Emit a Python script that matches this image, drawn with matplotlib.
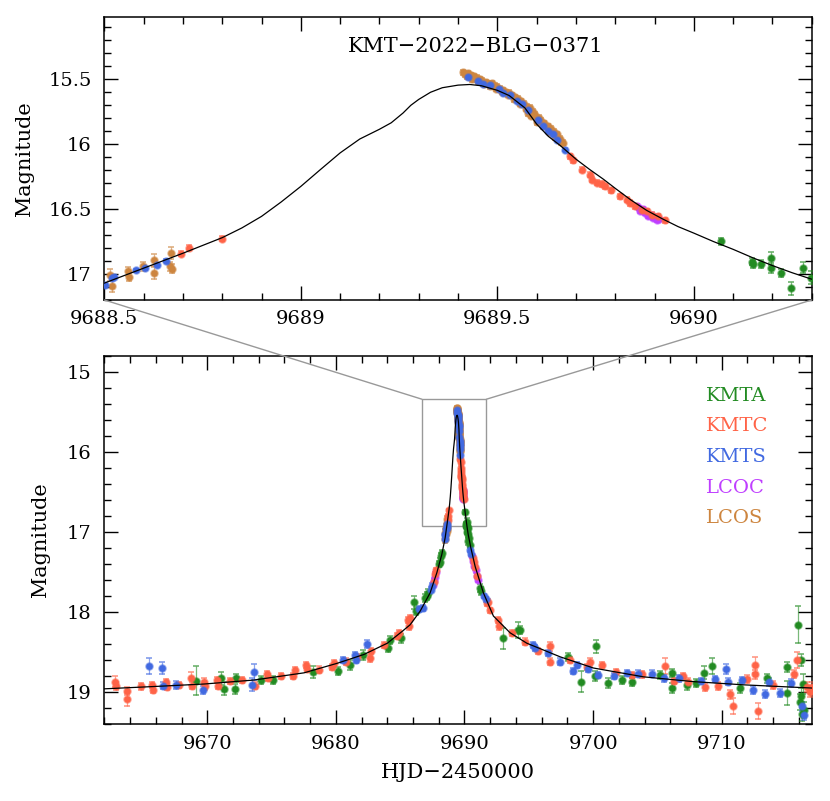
import matplotlib
matplotlib.use("Agg")
import matplotlib.pyplot as plt
from matplotlib.patches import Rectangle, ConnectionPatch
from matplotlib.ticker import MultipleLocator, FuncFormatter
import matplotlib.colors as mcolors

plt.rcParams['font.family'] = ['DejaVu Serif']
plt.rcParams['font.size'] = 14

# ---------------- data (HJD-2450000, magnitude, error) ----------------
kmta_t = [9669.16, 9671.10, 9671.31, 9672.14, 9672.22, 9674.16, 9675.12, 9678.23, 9680.20,
          9681.11, 9682.14, 9684.06, 9684.22, 9685.10, 9686.08, 9686.24, 9686.95, 9687.07,
          9687.20, 9688.05, 9688.10, 9688.18, 9688.24,
          9690.068, 9690.147, 9690.150, 9690.171, 9690.197, 9690.197, 9690.223, 9690.248,
          9690.279, 9690.298, 9690.34, 9690.42,
          9691.21, 9691.30, 9693.03, 9694.19, 9694.30, 9698.08, 9699.04, 9700.16, 9700.24,
          9701.19, 9702.23, 9703.00, 9705.20, 9706.10, 9706.12, 9707.28, 9708.00, 9708.60,
          9709.28, 9711.40, 9713.50, 9715.07, 9715.11, 9715.97, 9716.10, 9716.20, 9716.30,
          9716.40, 9716.15, 9716.25]
kmta_m = [18.86, 18.83, 18.96, 18.96, 18.83, 18.85, 18.85, 18.75, 18.74,
          18.66, 18.54, 18.45, 18.35, 18.33, 17.88, 17.99, 17.82, 17.80,
          17.76, 17.40, 17.37, 17.30, 17.26,
          16.749, 16.904, 16.920, 16.922, 16.878, 16.955, 16.994, 17.110,
          16.950, 17.028, 17.08, 17.16,
          17.70, 17.74, 18.33, 18.22, 18.22, 18.56, 18.87, 18.80, 18.43,
          18.89, 18.85, 18.87, 18.79, 18.76, 18.95, 18.91, 18.89, 18.76,
          18.67, 18.95, 18.83, 18.69, 19.01, 18.16, 19.12, 18.60, 18.90,
          19.22, 19.05, 19.28]
kmta_e = [0.18, 0.08, 0.08, 0.06, 0.05, 0.05, 0.05, 0.08, 0.05,
          0.06, 0.06, 0.05, 0.05, 0.06, 0.08, 0.05, 0.05, 0.05,
          0.05, 0.04, 0.04, 0.04, 0.04,
          0.03, 0.03, 0.03, 0.03, 0.05, 0.04, 0.03, 0.05,
          0.04, 0.05, 0.04, 0.04,
          0.05, 0.05, 0.13, 0.10, 0.05, 0.05, 0.13, 0.06, 0.08,
          0.06, 0.05, 0.05, 0.05, 0.05, 0.06, 0.06, 0.05, 0.08,
          0.10, 0.06, 0.06, 0.06, 0.15, 0.23, 0.10, 0.08, 0.12,
          0.10, 0.10, 0.08]

kmtc_t = [9662.81, 9662.89, 9663.74, 9663.79, 9664.83, 9665.73, 9665.81, 9666.77, 9666.90,
          9667.81, 9668.77, 9668.84, 9669.75, 9669.83, 9670.79, 9670.87, 9671.77, 9672.73,
          9673.70, 9674.68, 9674.76, 9675.72, 9676.70, 9676.80, 9677.66, 9677.79, 9678.70,
          9679.73, 9679.87, 9680.77, 9681.67, 9682.66, 9682.71, 9683.75, 9684.74, 9684.90,
          9685.64, 9685.77, 9685.70, 9687.62, 9687.72, 9687.80,
          9688.694, 9688.716, 9688.800, 9689.685, 9689.692, 9689.715, 9689.736, 9689.740,
          9689.753, 9689.766, 9689.774, 9689.789, 9689.812, 9689.829, 9689.838, 9689.850,
          9689.867, 9689.880, 9689.893, 9689.910, 9689.927,
          9690.65, 9690.72, 9690.80, 9690.96, 9691.74, 9691.82, 9692.00, 9692.64, 9692.70,
          9693.68, 9694.71, 9695.75, 9696.66, 9696.66, 9698.20, 9699.50, 9699.77, 9700.68,
          9701.80, 9703.00, 9703.79, 9705.60, 9706.30, 9707.00, 9707.40, 9708.70, 9709.70,
          9710.65, 9710.86, 9712.00, 9712.60, 9712.62, 9712.86, 9714.00, 9715.60, 9715.89,
          9716.60, 9716.85, 9717.00]
kmtc_m = [18.87, 18.93, 19.09, 18.99, 18.93, 18.91, 18.97, 18.88, 18.94,
          18.91, 18.83, 18.92, 18.87, 18.93, 18.85, 18.92, 18.86, 18.85,
          18.92, 18.78, 18.82, 18.80, 18.80, 18.73, 18.66, 18.71, 18.72,
          18.69, 18.64, 18.62, 18.56, 18.58, 18.49, 18.41, 18.30, 18.26,
          18.10, 18.08, 18.18, 17.62, 17.53, 17.48,
          16.845, 16.796, 16.729, 16.093, 16.124, 16.196, 16.234, 16.273,
          16.298, 16.306, 16.325, 16.355, 16.400, 16.427, 16.453, 16.479,
          16.505, 16.518, 16.543, 16.556, 16.587,
          17.33, 17.37, 17.44, 17.55, 17.89, 17.87, 17.98, 18.10, 18.18,
          18.26, 18.37, 18.49, 18.62, 18.43, 18.60, 18.69, 18.62, 18.66,
          18.75, 18.79, 18.78, 18.67, 18.86, 18.80, 18.87, 18.94, 18.92,
          19.03, 19.17, 18.84, 18.66, 18.78, 19.24, 18.91, 18.78, 18.60,
          18.94, 19.00, 18.94]
kmtc_e = [0.07, 0.05, 0.08, 0.05, 0.04, 0.04, 0.04, 0.04, 0.04,
          0.04, 0.08, 0.04, 0.04, 0.04, 0.04, 0.04, 0.04, 0.04,
          0.04, 0.04, 0.04, 0.04, 0.04, 0.04, 0.04, 0.04, 0.04,
          0.04, 0.04, 0.04, 0.04, 0.04, 0.04, 0.04, 0.04, 0.04,
          0.04, 0.04, 0.04, 0.03, 0.03, 0.03,
          0.02, 0.02, 0.02, 0.02, 0.02, 0.02, 0.02, 0.02,
          0.02, 0.02, 0.02, 0.02, 0.02, 0.02, 0.02, 0.02,
          0.02, 0.02, 0.02, 0.02, 0.02,
          0.03, 0.03, 0.03, 0.03, 0.03, 0.03, 0.03, 0.04, 0.04,
          0.04, 0.04, 0.04, 0.04, 0.06, 0.04, 0.04, 0.05, 0.04,
          0.04, 0.04, 0.04, 0.10, 0.04, 0.04, 0.04, 0.05, 0.05,
          0.06, 0.10, 0.05, 0.10, 0.06, 0.10, 0.05, 0.05, 0.10,
          0.06, 0.06, 0.06]

kmts_t = [9665.50, 9666.51, 9666.54, 9667.55, 9669.67, 9673.51, 9673.62, 9680.59, 9681.47,
          9681.60, 9682.45, 9686.50, 9686.80, 9687.40, 9687.50,
          9688.502, 9688.519, 9688.525, 9688.581, 9688.604, 9688.635, 9688.657,
          9689.426, 9689.452, 9689.464, 9689.481, 9689.503, 9689.515, 9689.532, 9689.549,
          9689.562, 9689.579, 9689.604, 9689.617, 9689.630, 9689.642, 9689.651, 9689.672,
          9690.44, 9690.52, 9691.55, 9691.65, 9695.36, 9695.50, 9696.53, 9697.44, 9698.47,
          9698.73, 9699.60, 9700.40, 9701.60, 9702.60, 9703.50, 9704.57, 9705.50, 9706.70,
          9708.40, 9709.50, 9710.34, 9710.50, 9711.60, 9712.47, 9713.38, 9713.70, 9714.54,
          9715.40, 9716.23, 9716.40]
kmts_m = [18.67, 18.70, 18.92, 18.91, 18.98, 18.91, 18.75, 18.60, 18.54,
          18.60, 18.40, 17.96, 17.95, 17.72, 17.67,
          17.084, 17.032, 17.020, 16.968, 16.955, 16.930, 16.896,
          15.479, 15.513, 15.539, 15.546, 15.577, 15.603, 15.624, 15.668,
          15.693, 15.737, 15.814, 15.861, 15.900, 15.925, 15.964, 16.041,
          17.22, 17.27, 17.80, 17.84, 18.41, 18.45, 18.51, 18.62, 18.74,
          18.66, 18.71, 18.79, 18.80, 18.76, 18.77, 18.77, 18.83, 18.83,
          18.86, 18.84, 18.71, 18.87, 18.85, 18.97, 19.03, 18.87, 19.01,
          18.89, 19.18, 19.29]
kmts_e = [0.10, 0.08, 0.04, 0.05, 0.05, 0.08, 0.10, 0.04, 0.04,
          0.04, 0.05, 0.04, 0.04, 0.03, 0.03,
          0.01, 0.01, 0.01, 0.01, 0.01, 0.01, 0.01,
          0.01, 0.01, 0.01, 0.01, 0.01, 0.01, 0.01, 0.01,
          0.01, 0.01, 0.01, 0.01, 0.01, 0.01, 0.01, 0.01,
          0.03, 0.03, 0.03, 0.03, 0.04, 0.04, 0.04, 0.04, 0.04,
          0.04, 0.04, 0.04, 0.04, 0.04, 0.04, 0.04, 0.04, 0.04,
          0.04, 0.04, 0.06, 0.04, 0.04, 0.05, 0.05, 0.05, 0.05,
          0.05, 0.06, 0.06]

lcoc_t = [9687.55, 9687.62, 9687.68, 9687.75,
          9689.855, 9689.860, 9689.863, 9689.870, 9689.876, 9689.884, 9689.890, 9689.897,
          9689.903, 9689.906, 9689.912,
          9690.62, 9690.70, 9690.78, 9690.86, 9690.95, 9691.02]
lcoc_m = [17.66, 17.61, 17.56, 17.50,
          16.479, 16.490, 16.518, 16.500, 16.530, 16.556, 16.545, 16.569,
          16.560, 16.582, 16.575,
          17.30, 17.36, 17.42, 17.48, 17.55, 17.60]
lcoc_e = [0.03, 0.03, 0.03, 0.03,
          0.015, 0.015, 0.015, 0.015, 0.015, 0.015, 0.015, 0.015,
          0.015, 0.015, 0.015,
          0.03, 0.03, 0.03, 0.03, 0.03, 0.03]

lcos_t = [9688.515, 9688.520, 9688.561, 9688.563, 9688.598, 9688.627, 9688.626, 9688.667,
          9688.669, 9688.672,
          9689.412, 9689.418, 9689.425, 9689.432, 9689.440, 9689.447, 9689.455, 9689.462,
          9689.470, 9689.478, 9689.486, 9689.493, 9689.500, 9689.508, 9689.515, 9689.522,
          9689.530, 9689.538, 9689.546, 9689.553, 9689.560, 9689.568, 9689.575, 9689.582,
          9689.590, 9689.597, 9689.605, 9689.612, 9689.620, 9689.628, 9689.636, 9689.644,
          9689.652, 9689.660, 9689.668, 9689.585, 9689.600, 9689.578,
          9689.422, 9689.436, 9689.451, 9689.466, 9689.482, 9689.497, 9689.512, 9689.527,
          9689.542, 9689.557, 9689.572, 9689.587, 9689.602, 9689.617, 9689.632, 9689.647,
          9689.662]
lcos_m = [17.007, 17.090, 16.980, 17.020, 16.940, 16.890, 16.990, 16.940,
          16.840, 16.960,
          15.445, 15.460, 15.455, 15.470, 15.478, 15.490, 15.500, 15.512,
          15.522, 15.535, 15.530, 15.552, 15.560, 15.575, 15.585, 15.600,
          15.605, 15.622, 15.638, 15.650, 15.668, 15.690, 15.710, 15.720,
          15.750, 15.775, 15.795, 15.820, 15.840, 15.862, 15.880, 15.905,
          15.925, 15.960, 15.990, 15.780, 15.830, 15.760,
          15.478, 15.498, 15.515, 15.535, 15.555, 15.572, 15.595, 15.620,
          15.655, 15.688, 15.728, 15.770, 15.815, 15.860, 15.905, 15.948,
          15.985]
lcos_e = [0.045, 0.045, 0.035, 0.035, 0.035, 0.045, 0.045, 0.035,
          0.045, 0.035] + [0.02] * 38 + [0.02] * 17

# model light curve
model_t = [9662.0, 9666.0, 9669.75, 9673.64, 9677.53, 9680.12, 9682.19, 9684.0, 9685.17,
           9685.77, 9686.55, 9687.33, 9687.85, 9688.24,
           9688.50, 9688.60, 9688.70, 9688.80, 9688.85, 9688.90, 9688.95, 9689.00, 9689.05,
           9689.10, 9689.15, 9689.20, 9689.23, 9689.26, 9689.28, 9689.30, 9689.33, 9689.36,
           9689.40, 9689.43, 9689.46, 9689.50, 9689.53, 9689.57, 9689.60, 9689.63, 9689.66,
           9689.70, 9689.735, 9689.77, 9689.80, 9689.84, 9689.88, 9689.92, 9689.96, 9690.00,
           9690.05, 9690.10, 9690.15, 9690.20, 9690.25, 9690.30,
           9690.50, 9690.83, 9691.47, 9692.25, 9693.55, 9694.85, 9697.44, 9700.03,
           9703.91, 9707.80, 9711.69, 9717.0]
model_m = [18.96, 18.93, 18.90, 18.85, 18.76, 18.64, 18.53, 18.39, 18.24,
           18.16, 17.99, 17.76, 17.51, 17.28,
           17.07, 16.955, 16.84, 16.72, 16.645, 16.556, 16.445, 16.325, 16.195,
           16.067, 15.96, 15.885, 15.835, 15.76, 15.70, 15.655, 15.60, 15.565,
           15.545, 15.54, 15.55, 15.585, 15.625, 15.72, 15.845, 15.94, 16.01,
           16.115, 16.195, 16.27, 16.34, 16.43, 16.51, 16.575, 16.635, 16.685,
           16.75, 16.81, 16.875, 16.935, 16.99, 17.04,
           17.20, 17.43, 17.76, 18.05, 18.26, 18.39, 18.56, 18.70,
           18.81, 18.87, 18.91, 18.95]

datasets = [
    ("LCOS", "#CD853F", lcos_t, lcos_m, lcos_e),
    ("LCOC", "#BF3EFF", lcoc_t, lcoc_m, lcoc_e),
    ("KMTA", "#228B22", kmta_t, kmta_m, kmta_e),
    ("KMTC", "#FF6347", kmtc_t, kmtc_m, kmtc_e),
    ("KMTS", "#4169E1", kmts_t, kmts_m, kmts_e),
]
legend_order = ["KMTA", "KMTC", "KMTS", "LCOC", "LCOS"]

title = "KMT\u22122022\u2212BLG\u22120371"

# ---------------- figure ----------------
fig = plt.figure(figsize=(8.3, 8.01), dpi=100)
ax1 = fig.add_axes([0.1257, 0.6255, 0.8523, 0.3533])
ax2 = fig.add_axes([0.1257, 0.0961, 0.8523, 0.4594])


def draw(ax):
    for name, col, t, m, e in datasets:
        rgb = mcolors.to_rgb(col)
        ax.errorbar(t, m, yerr=e, fmt='o', color=col, ms=4.8, mew=1.3,
                    mec=rgb + (0.55,), ecolor=rgb + (0.6,), elinewidth=0.9,
                    capsize=2.5, capthick=0.9, zorder=3)
    ax.plot(model_t, model_m, color='black', lw=0.9, zorder=5)
    ax.tick_params(which='both', direction='in', top=True, right=True, width=1.0)
    ax.tick_params(which='major', length=10)
    ax.tick_params(which='minor', length=5)
    for s in ax.spines.values():
        s.set_linewidth(1.1)


fmt = FuncFormatter(lambda v, p: '%g' % v)

draw(ax1)
ax1.set_xlim(9688.5, 9690.3)
ax1.set_ylim(17.2, 15.02)
ax1.xaxis.set_major_locator(MultipleLocator(0.5))
ax1.xaxis.set_minor_locator(MultipleLocator(0.1))
ax1.yaxis.set_major_locator(MultipleLocator(0.5))
ax1.yaxis.set_minor_locator(MultipleLocator(0.1))
ax1.xaxis.set_major_formatter(fmt)
ax1.yaxis.set_major_formatter(fmt)
ax1.tick_params(axis='x', pad=7)
ax1.tick_params(axis='y', pad=9)
ax1.set_ylabel("Magnitude", fontsize=15)
ax1.yaxis.set_label_coords(-0.099, 0.5)
ax1.text(0.525, 0.896, title, transform=ax1.transAxes, ha='center', va='center',
         fontsize=15)

draw(ax2)
ax2.set_xlim(9662, 9717)
ax2.set_ylim(19.4, 14.8)
ax2.xaxis.set_major_locator(MultipleLocator(10))
ax2.xaxis.set_minor_locator(MultipleLocator(2))
ax2.yaxis.set_major_locator(MultipleLocator(1))
ax2.yaxis.set_minor_locator(MultipleLocator(0.2))
ax2.xaxis.set_major_formatter(fmt)
ax2.yaxis.set_major_formatter(fmt)
ax2.tick_params(axis='x', pad=8)
ax2.tick_params(axis='y', pad=9)
ax2.set_ylabel("Magnitude", fontsize=15)
ax2.yaxis.set_label_coords(-0.077, 0.5)
ax2.set_xlabel("HJD\u22122450000", fontsize=15)
ax2.xaxis.set_label_coords(0.5, -0.105)

# legend as coloured text
colors = {d[0]: d[1] for d in datasets}
for i, name in enumerate(legend_order):
    ax2.text(0.851, 0.892 - i * 0.0833, name, color=colors[name], transform=ax2.transAxes,
             ha='left', va='center', fontsize=14)

# zoom box and connectors
box_x0, box_x1, box_y0, box_y1 = 9686.7, 9691.7, 15.34, 16.92
ax2.add_patch(Rectangle((box_x0, box_y0), box_x1 - box_x0, box_y1 - box_y0,
                        fill=False, ec='#999999', lw=1.0, zorder=2))
for xa, xb in [(box_x0, 9688.5), (box_x1, 9690.3)]:
    con = ConnectionPatch(xyA=(xa, box_y0), coordsA=ax2.transData,
                          xyB=(xb, 17.2), coordsB=ax1.transData,
                          color='#999999', lw=1.0)
    fig.add_artist(con)

fig.savefig("out.png", dpi=100)
